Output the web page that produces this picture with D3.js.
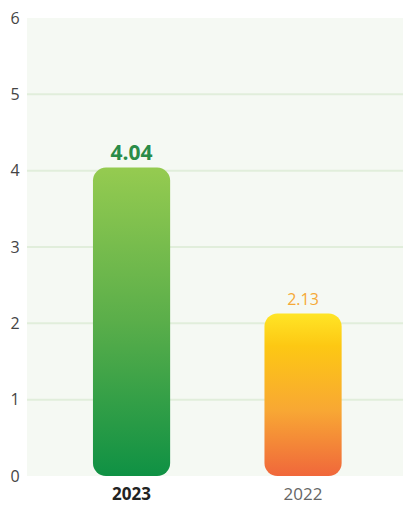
<!DOCTYPE html>
<html><head><meta charset="utf-8">
<script src="https://cdn.jsdelivr.net/npm/d3@7"></script>
<style>html,body{margin:0;padding:0;background:#fff;}svg{display:block;font-family:"Open Sans","Noto Sans",sans-serif;}</style>
</head><body>
<svg id="c" width="403" height="505"></svg>
<script>
const categories = ["2023", "2022"];
const values = [4.04, 2.13];
const labels = ["4.04", "2.13"];
const yTicks = [0, 1, 2, 3, 4, 5, 6];

const svg = d3.select("#c");
const plot = {left: 27, right: 403, top: 18, bottom: 476};
const y = d3.scaleLinear().domain([0, 6]).range([plot.bottom, plot.top]);
const x = d3.scaleBand().domain(categories).range([45.8, 388.8]).paddingInner(0.55).paddingOuter(0.275);

const defs = svg.append("defs");
const grads = [
  [["0%", "#95cb50"], ["50%", "#5aae4a"], ["100%", "#0f9144"]],
  [["0%", "#ffe526"], ["20%", "#fdc813"], ["60%", "#f8a734"], ["100%", "#f0673b"]]
];
grads.forEach((stops, i) => {
  const g = defs.append("linearGradient").attr("id", "g" + i).attr("x1", 0).attr("y1", 0).attr("x2", 0).attr("y2", 1);
  stops.forEach(s => g.append("stop").attr("offset", s[0]).attr("stop-color", s[1]));
});

svg.append("rect").attr("x", plot.left).attr("y", plot.top).attr("width", plot.right - plot.left).attr("height", plot.bottom - plot.top).attr("fill", "#f5f9f3");

svg.append("g").selectAll("line").data(yTicks.filter(d => d > 0 && d < 6)).join("line")
  .attr("x1", plot.left).attr("x2", plot.right)
  .attr("y1", d => y(d)).attr("y2", d => y(d))
  .attr("stroke", "#e1eedb").attr("stroke-width", 2);

svg.append("g").selectAll("text").data(yTicks).join("text")
  .attr("x", 15).attr("y", d => y(d)).attr("dy", "0.36em")
  .attr("text-anchor", "middle").attr("font-size", 16).attr("fill", "#444")
  .text(d => d);

svg.append("g").selectAll("rect").data(values).join("rect")
  .attr("x", (d, i) => x(categories[i])).attr("width", x.bandwidth())
  .attr("y", d => y(d)).attr("height", d => y(0) - y(d))
  .attr("rx", 13).attr("ry", 13)
  .attr("fill", (d, i) => "url(#g" + i + ")");

svg.append("g").selectAll("text").data(values).join("text")
  .attr("x", (d, i) => x(categories[i]) + x.bandwidth() / 2)
  .attr("y", (d, i) => y(d) - 8)
  .attr("text-anchor", "middle")
  .attr("font-size", (d, i) => i === 0 ? 21 : 16)
  .attr("font-weight", (d, i) => i === 0 ? "bold" : "normal")
  .attr("fill", (d, i) => i === 0 ? "#2a8c48" : "#f5a936")
  .text((d, i) => labels[i]);

svg.append("g").selectAll("text").data(categories).join("text")
  .attr("x", d => x(d) + x.bandwidth() / 2).attr("y", 500)
  .attr("text-anchor", "middle").attr("font-size", 17)
  .attr("font-weight", (d, i) => i === 0 ? "bold" : "normal")
  .attr("fill", (d, i) => i === 0 ? "#222" : "#666")
  .text(d => d);
</script>
</body></html>
